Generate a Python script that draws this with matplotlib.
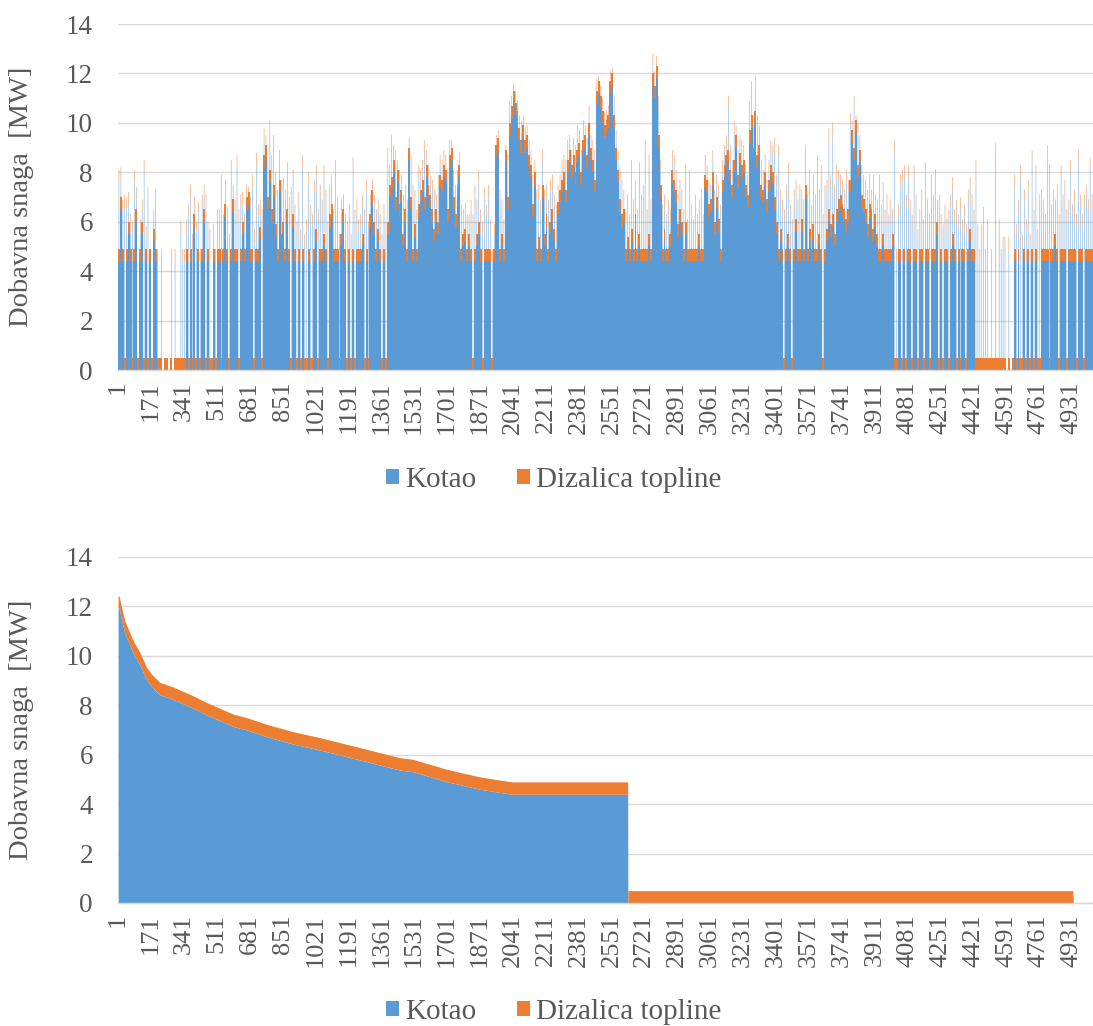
import matplotlib
matplotlib.use("Agg")
import matplotlib.pyplot as plt
import numpy as np
from matplotlib.patches import Patch

# ---------------- data ----------------
N_HOURS = 5040
BIN_HOURS = 10
tick_labels = [str(v) for v in range(1, 5000, 170)]

# Top chart: typical boiler (Kotao) output per 10-hour block [MW] (0 = off)
kotao_bins = [
    4.4, 6.5, 4.4, 0, 4.4, 5.5, 4.4, 0, 4.4, 6.0,
    0, 4.4, 5.5, 0, 4.4, 0, 4.4, 0, 5.2, 4.4,
    0, 0, 0, 0, 0, 0, 0, 0, 0, 0, 0, 0, 0, 0,
    0, 4.4, 0, 4.4, 0, 5.8, 0, 4.4, 0, 4.4, 6.0, 0, 4.4, 0, 0, 4.4, 0,
    4.4, 4.4, 0, 4.4, 6.2, 4.4, 0, 4.4, 6.4, 4.4, 4.4, 0, 4.4, 5.5, 4.4, 6.5,
    6.7, 4.4, 4.4, 0, 4.4, 4.4, 5.3, 0,
    8.2, 8.6, 6.5, 7.6, 6.0, 7.0, 5.4, 4.4, 7.2, 5.0,
    # b85 -
    5.5, 4.4, 6.0, 4.4, 0, 5.8, 4.4, 0, 4.4, 0,
    4.4, 0, 0, 4.4, 0, 0, 4.4, 5.2, 0, 4.4,
    4.4, 5.0, 4.4, 0, 5.8, 6.2, 4.4, 4.4, 4.4, 0,
    5.0, 6.0, 4.4, 0, 4.4, 0, 4.4, 0, 4.4, 4.4,
    4.4, 5.0, 0, 4.4, 0, 5.8, 6.8, 5.5, 4.4, 5.2,
    4.4, 0, 4.4, 0, 5.5, 7.0, 7.3, 8.0, 6.5, 7.6,
    6.2, 6.8, 5.0, 6.0, 4.4, 8.5, 6.5, 4.4, 5.4, 4.4,
    6.2, 6.8, 7.2, 6.5, 7.8, 7.0, 6.6, 6.0, 5.2, 6.0,
    5.5, 7.4, 7.2, 7.8,
    # b169 -
    7.6, 6.0, 8.2, 8.5, 6.5, 5.8, 7.0, 7.8, 4.4, 5.0,
    5.2, 4.4, 5.0, 4.4, 0, 4.4, 5.0, 5.5, 4.4, 0,
    4.4, 4.4, 4.4, 4.4, 0, 4.4, 8.6, 8.9, 4.4, 5.0,
    4.4, 8.4, 6.5, 9.5, 10.2, 10.8, 10.3, 10.0, 9.3, 8.8,
    9.4, 8.8, 9.0, 8.2, 7.8, 6.2, 7.5, 4.4, 4.9, 4.4,
    7.0, 5.0, 5.8, 4.4, 5.5, 6.0, 5.2, 4.4, 6.3, 6.8,
    7.2, 7.5, 6.8, 8.0, 8.4, 7.8, 8.2, 7.5, 8.4, 8.7,
    7.5, 8.8, 9.0, 8.2, 9.5, 8.5, 8.0, 7.2, 10.8, 11.2,
    10.6, 10.0, 9.4, 9.6, 9.8,
    # b254 -
    11.2, 11.5, 9.8, 8.5, 7.6, 6.4, 5.8, 6.0, 4.4, 4.9,
    4.4, 5.2, 4.4, 5.8, 4.4, 5.0, 4.4, 4.4, 4.4, 4.4,
    5.0, 4.4, 11.5, 11.0, 11.8, 9.0, 7.0, 4.4, 5.2, 4.4,
    4.4, 5.0, 7.6, 7.2, 6.8, 5.4, 6.0, 5.5, 4.4, 5.5,
    4.4, 4.4, 4.4, 4.4, 4.4, 4.4, 5.0, 4.4, 4.4, 7.4,
    7.2, 6.2, 6.4, 7.5, 5.5, 6.5, 5.6, 4.4, 7.2, 7.8,
    8.2, 8.4, 7.6, 7.0, 8.0, 9.0, 7.4, 8.3, 7.8, 8.0,
    7.0, 6.6, 9.2, 9.8, 8.5, 10.0, 8.2, 8.6, 7.0, 6.8,
    7.5, 6.4, 7.2, 7.8,
    # b338 -
    7.5, 6.5, 5.5, 4.4, 5.2, 4.4, 0, 4.4, 5.0, 4.4,
    0, 4.4, 5.6, 4.4, 4.4, 5.6, 4.4, 7.0, 4.4, 5.2,
    4.4, 5.4, 4.4, 4.4, 5.0, 4.4, 0, 4.4, 5.2, 6.0,
    5.4, 5.8, 5.0, 6.0, 6.4, 6.6, 6.2, 6.0, 5.6, 6.0,
    7.2, 9.2, 8.5, 9.6, 7.8, 8.4, 6.6, 6.4, 6.0, 5.4,
    6.2, 6.0, 5.2, 5.8, 5.0, 4.4, 4.4, 5.0, 4.4, 4.4,
    4.4, 4.4, 5.0, 0, 0, 4.4, 4.4, 0, 4.4, 0,
    4.4, 4.4, 0, 4.4, 4.4, 0, 4.4, 4.4, 0, 4.4,
    4.4, 0, 4.4, 4.4,
    # b422 -
    4.4, 5.5, 0, 4.4, 0, 4.4, 4.4, 0, 4.4, 5.0,
    4.4, 0, 4.4, 0, 4.4, 4.4, 0, 4.4, 5.2, 4.4,
    4.4, 0, 0, 0, 0, 0, 0, 0, 0, 0,
    0, 0, 0, 0, 0, 0, 0, 0, 0, 0,
    0, 4.4, 0, 4.4, 0, 0, 4.4, 0, 4.4, 0,
    4.4, 0, 4.4, 0, 0, 4.4, 4.4, 4.4, 4.4, 0,
    4.4, 4.4, 5.0, 4.4, 0, 4.4, 4.4, 4.4, 0, 4.4,
    4.4, 4.4, 4.4, 0, 4.4, 4.4, 4.4, 0, 4.4, 4.4,
    4.4, 4.4,
]

# Top chart: highest single-hour boiler output inside each 10-hour block [MW]
kotao_peak_bins = [
    7.6, 7.7, 6.4, 6.6, 6.5, 6.7, 5.8, 5.5, 7.6, 6.9,
    0, 5.6, 6.4, 8.0, 5.3, 6.9, 4.4, 0, 6.0, 6.8,
    4.4, 0, 4.4, 0, 0, 0, 0, 4.4, 0, 4.4, 0, 0, 5.5, 4.4,
    4.4, 5.6, 6.2, 7.0, 5.0, 6.5, 5.5, 6.3, 4.4, 6.6, 7.0, 6.6, 5.5, 5.2, 0, 5.4, 4.4,
    6.0, 6.0, 7.4, 5.8, 7.2, 6.1, 5.0, 8.0, 7.0, 6.4, 8.2, 6.0, 6.6, 6.7, 5.8, 7.0,
    6.9, 6.5, 7.4, 5.2, 8.3, 6.2, 6.4, 6.0,
    9.3, 9.0, 8.0, 9.6, 8.2, 9.0, 7.5, 6.8, 8.4, 7.2,
    # b85 -
    7.3, 6.8, 7.9, 6.5, 6.9, 7.6, 6.2, 5.5, 6.7, 5.2,
    8.2, 5.0, 5.6, 7.5, 6.2, 5.8, 7.2, 7.8, 6.0, 7.0,
    6.4, 7.8, 6.8, 5.5, 7.0, 7.4, 6.0, 8.0, 6.5, 5.0,
    6.4, 6.6, 5.8, 5.5, 6.2, 5.0, 8.1, 6.0, 6.4, 5.6,
    5.8, 6.6, 6.0, 7.2, 5.5, 6.6, 7.2, 6.6, 6.0, 6.4,
    5.8, 5.0, 6.2, 5.5, 8.5, 7.8, 9.0, 8.6, 8.4, 8.0,
    7.6, 7.4, 6.6, 7.0, 6.4, 8.9, 8.2, 7.0, 6.8, 6.0,
    7.8, 7.6, 8.0, 8.8, 8.4, 7.8, 7.4, 7.2, 6.8, 6.6,
    7.4, 8.2, 8.0, 8.4,
    # b169 -
    8.2, 7.2, 8.8, 8.8, 7.6, 7.0, 7.6, 8.3, 6.2, 6.0,
    6.3, 5.8, 5.8, 6.4, 5.8, 7.0, 6.4, 7.6, 6.0, 5.5,
    6.9, 6.2, 7.0, 5.6, 4.4, 5.4, 9.0, 9.2, 6.8, 6.4,
    5.6, 8.6, 8.2, 10.4, 10.6, 11.1, 10.8, 10.4, 9.8, 9.6,
    9.8, 9.4, 9.4, 8.8, 8.4, 7.4, 8.0, 6.8, 7.0, 6.4,
    8.4, 6.8, 7.0, 6.4, 7.2, 7.4, 6.6, 6.2, 7.0, 7.4,
    8.0, 8.2, 8.0, 8.8, 9.0, 8.4, 8.9, 8.6, 9.4, 9.2,
    8.4, 9.6, 9.4, 8.9, 10.2, 9.0, 8.8, 8.4, 11.3, 11.4,
    11.0, 10.5, 10.0, 10.0, 10.2,
    # b254 -
    11.6, 11.7, 10.6, 9.2, 8.4, 7.7, 7.2, 6.8, 6.0, 6.6,
    5.8, 8.0, 6.4, 7.2, 6.0, 7.9, 6.6, 7.0, 8.8, 6.0,
    8.2, 6.4, 12.3, 11.6, 12.2, 10.6, 8.0, 6.2, 6.6, 5.8,
    6.4, 6.0, 8.4, 8.2, 7.6, 6.6, 7.2, 6.8, 6.0, 7.8,
    5.6, 7.6, 6.2, 5.6, 6.6, 5.8, 6.4, 6.8, 5.8, 8.2,
    7.8, 7.2, 7.0, 8.4, 6.8, 7.4, 7.0, 6.2, 8.0, 8.6,
    9.0, 10.6, 8.6, 8.0, 9.6, 9.4, 8.4, 9.0, 8.8, 8.6,
    7.8, 7.4, 10.4, 11.2, 9.4, 11.4, 9.8, 9.4, 8.0, 7.6,
    8.2, 7.2, 8.0, 8.8,
    # b338 -
    8.6, 8.9, 7.4, 8.6, 6.8, 6.4, 6.0, 7.0, 7.9, 6.2,
    5.6, 6.8, 7.2, 6.4, 7.0, 6.8, 6.4, 8.6, 6.6, 7.6,
    6.2, 7.4, 6.6, 8.2, 6.8, 7.8, 5.8, 7.0, 7.2, 9.3,
    7.4, 9.5, 7.0, 7.8, 7.6, 7.4, 7.2, 6.8, 7.6, 7.2,
    9.9, 9.6, 10.6, 9.8, 9.5, 9.0, 7.8, 7.4, 7.2, 6.8,
    7.4, 6.8, 7.4, 6.6, 6.4, 7.4, 6.2, 7.1, 6.0, 6.6,
    5.8, 6.4, 6.0, 8.8, 4.4, 6.2, 7.4, 7.6, 7.8, 6.6,
    7.8, 6.4, 5.8, 7.8, 6.6, 5.2, 6.0, 6.8, 5.6, 7.9,
    6.4, 5.8, 7.4, 6.6,
    # b422 -
    7.6, 6.4, 6.6, 5.8, 5.4, 6.2, 5.6, 6.0, 6.6, 7.3,
    6.0, 6.4, 5.8, 6.5, 5.6, 6.2, 5.4, 6.8, 7.3, 6.6,
    6.0, 8.0, 5.4, 4.4, 5.4, 6.1, 4.4, 5.6, 0, 4.4,
    0, 8.7, 0, 5.6, 4.4, 4.9, 4.9, 0, 4.9, 0,
    0, 7.4, 5.4, 6.4, 7.8, 5.0, 6.8, 5.6, 7.2, 5.0,
    8.4, 6.0, 7.8, 5.2, 6.6, 6.8, 6.4, 5.8, 8.6, 7.8,
    6.2, 6.8, 6.4, 7.0, 5.8, 7.8, 6.6, 7.2, 6.0, 6.4,
    8.0, 6.2, 6.8, 5.8, 8.4, 6.6, 5.8, 6.6, 7.0, 6.4,
    8.1, 6.6,
]

# Heat pump (Dizalica topline) output [MW]; blocks where it is off
hp_level = 0.5
hp_off_bins = [23, 26, 28, 459, 461]

# Bottom chart: load duration curve, read at breakpoints (sorted hour, MW)
dur_hours = [1, 7, 19, 36, 80, 114, 149, 175, 218, 286, 390, 459, 597, 666, 769,
             907, 1045, 1183, 1286, 1355, 1458, 1527, 1700, 1872, 2036, 2635, 2636,
             4935, 4940, 5040]
dur_kotao = [11.95, 11.9, 11.45, 10.9, 10.1, 9.63, 9.02, 8.75, 8.42, 8.24, 7.88, 7.61,
             7.14, 7.0, 6.73, 6.43, 6.19, 5.92, 5.72, 5.58, 5.38, 5.31, 4.91, 4.6, 4.4,
             4.4, 0, 0, 0, 0]
dur_hp = [0.5] * 27 + [0.5, 0, 0]

# ---------------- style ----------------
BLUE = "#5B9BD5"
ORANGE = "#ED7D31"
GRID = "#D9D9D9"
TXT = "#595959"
FONT = ["Liberation Serif", "DejaVu Serif"]
plt.rcParams["font.family"] = FONT

W, H = 1093, 1026
fig = plt.figure(figsize=(W / 100, H / 100), dpi=100)

def make_axes(y_zero, y_top):
    ax = fig.add_axes([118 / W, (H - y_zero) / H, 975 / W, (y_zero - y_top) / H])
    ax.set_xlim(0.5, N_HOURS + 0.5)
    ax.set_ylim(0, 14)
    ax.set_yticks(range(0, 15, 2))
    ax.grid(axis="y", color=GRID, lw=1.0)
    ax.set_axisbelow(True)
    for s in ["top", "right", "left"]:
        ax.spines[s].set_visible(False)
    ax.spines["bottom"].set_color(GRID)
    ax.spines["bottom"].set_linewidth(1.0)
    ax.set_xticks(range(1, 5000, 170))
    ax.set_xticklabels(tick_labels, rotation=90, fontsize=19, color=TXT)
    ax.tick_params(axis="x", length=0, pad=8)
    ax.tick_params(axis="y", length=0, pad=18, labelsize=19.5, labelcolor=TXT)
    ax.set_ylabel("Dobavna snaga  [MW]", fontsize=20.5, color=TXT)
    ax.yaxis.set_label_coords(-84 / 975, 0.5)
    return ax

# ---- top chart: stacked bars ----
ax1 = make_axes(370, 24)
kotao = np.array(kotao_bins, dtype=float)
peak = np.array(kotao_peak_bins, dtype=float)
hp = np.full(len(kotao), hp_level)
hp[hp_off_bins] = 0
hp_peak = np.where(peak > 0, hp, 0)
centers = np.arange(len(kotao)) * BIN_HOURS + 0.5 + BIN_HOURS / 2
# single peak hours (thin, sub-pixel bars -> pale as in the original)
ax1.bar(centers, peak, width=2.6, color=BLUE, linewidth=0, zorder=1.5,
        alpha=0.9, snap=False)
ax1.bar(centers, hp_peak, width=2.6, bottom=peak, color=ORANGE, linewidth=0,
        zorder=1.5, alpha=0.9, snap=False)
# block levels
ax1.bar(centers, kotao, width=BIN_HOURS, color=BLUE, linewidth=0, zorder=2)
ax1.bar(centers, hp, width=BIN_HOURS, bottom=kotao, color=ORANGE, linewidth=0, zorder=2)

# ---- bottom chart: stacked area (duration curve) ----
ax2 = make_axes(903, 557)
dh = np.array(dur_hours, dtype=float)
dk = np.array(dur_kotao)
dp = np.array(dur_hp)
ax2.fill_between(dh, 0, dk, color=BLUE, lw=0, zorder=2)
ax2.fill_between(dh, dk, dk + dp, color=ORANGE, lw=0, zorder=2)

# ---- legends ----
handles = [Patch(facecolor=BLUE, edgecolor="none", label="Kotao"),
           Patch(facecolor=ORANGE, edgecolor="none", label="Dizalica topline")]
for yc in (480, 1012):
    fig.legend(handles=handles, loc="center", bbox_to_anchor=(554 / W, (H - yc) / H),
               ncol=2, frameon=False, fontsize=21, labelcolor=TXT,
               handlelength=0.45, handleheight=0.45, handletextpad=0.2,
               columnspacing=1.4, borderaxespad=0, borderpad=0)

fig.savefig("out.png", dpi=100)
